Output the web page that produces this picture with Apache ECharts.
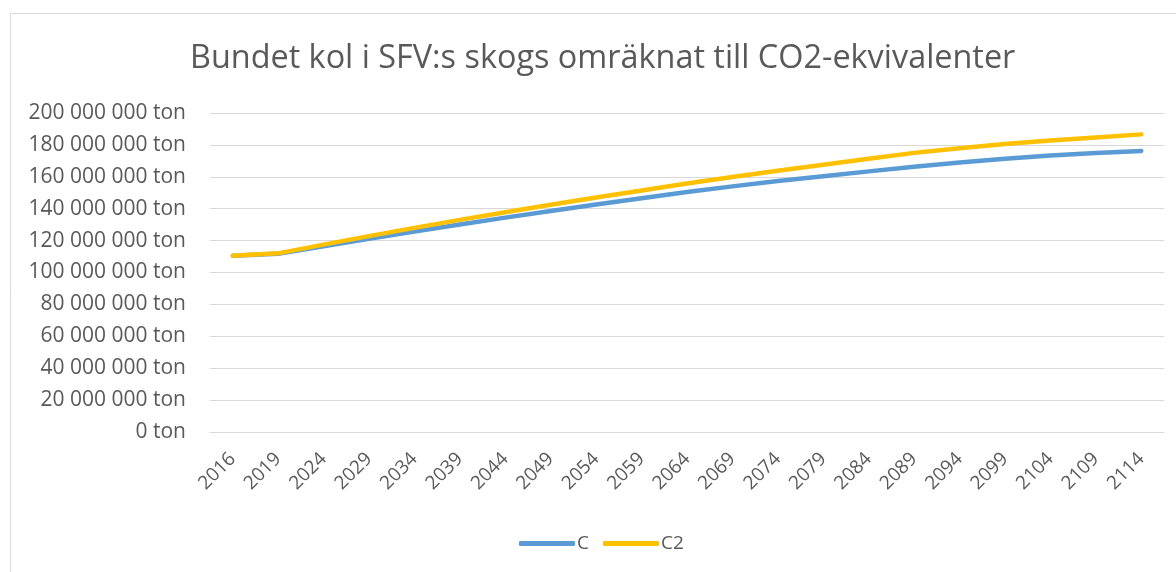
<!DOCTYPE html>
<html>
<head>
<meta charset="utf-8">
<script src="https://cdn.jsdelivr.net/npm/echarts@6/dist/echarts.min.js"></script>
<style>
html,body{margin:0;padding:0;background:#fff;}
#chart{width:1176px;height:572px;}
</style>
</head>
<body>
<div id="chart"></div>
<script>
const categories = ["2016","2019","2024","2029","2034","2039","2044","2049","2054","2059","2064","2069","2074","2079","2084","2089","2094","2099","2104","2109","2114"];
const seriesC = [110.5e6,111.8e6,116.5e6,121.2e6,125.7e6,130.1e6,134.4e6,138.6e6,142.6e6,146.6e6,150.5e6,154.0e6,157.3e6,160.4e6,163.4e6,166.3e6,168.9e6,171.3e6,173.3e6,174.9e6,176.2e6];
const seriesC2 = [110.5e6,112.0e6,117.5e6,122.8e6,128.0e6,133.0e6,137.8e6,142.5e6,147.0e6,151.4e6,155.8e6,159.9e6,163.8e6,167.6e6,171.3e6,175.0e6,177.9e6,180.5e6,182.7e6,184.7e6,186.6e6];
const seriesNames = ["C","C2"];
const titleText = "Bundet kol i SFV:s skogs omräknat till CO2-ekvivalenter";

const FONT = "Open Sans";
function fmt(v){
  return String(Math.round(v)).replace(/\B(?=(\d{3})+(?!\d))/g, " ") + " ton";
}
const chart = echarts.init(document.getElementById('chart'), null, {renderer:'canvas'});
chart.setOption({
  animation:false,
  backgroundColor:'#ffffff',
  graphic:[{type:'rect', shape:{x:10.5,y:13.5,width:1300,height:700}, style:{fill:'none',stroke:'#D9D9D9',lineWidth:1}, silent:true}],
  title:{text:titleText, left:185, top:38, textStyle:{fontFamily:FONT, fontSize:32.4, fontWeight:'normal', color:'#595959'}},
  legend:{top:529, left:514, itemWidth:56, itemHeight:5, itemGap:14, icon:'roundRect',
    textStyle:{fontFamily:FONT, fontSize:19, color:'#595959', padding:[0,0,0,-3]}, data:seriesNames},
  grid:{left:210, right:12, top:113, bottom:140, containLabel:false},
  xAxis:{type:'category', data:categories, boundaryGap:true,
    axisLine:{lineStyle:{color:'#D9D9D9', width:1}}, axisTick:{show:false},
    axisLabel:{rotate:45, fontFamily:FONT, fontSize:19, color:'#595959', margin:24, interval:0}},
  yAxis:{type:'value', min:0, max:200000000, interval:20000000,
    axisLine:{show:false}, axisTick:{show:false},
    splitLine:{lineStyle:{color:'#D9D9D9', width:1}},
    axisLabel:{formatter:fmt, fontFamily:FONT, fontSize:21, color:'#595959', margin:24}},
  series:[
    {name:seriesNames[0], type:'line', data:seriesC, showSymbol:false, symbol:'none', lineStyle:{color:'#5B9BD5', width:4.5, cap:'round', join:'round'}, itemStyle:{color:'#5B9BD5'}},
    {name:seriesNames[1], type:'line', data:seriesC2, showSymbol:false, symbol:'none', lineStyle:{color:'#FFC000', width:4.5, cap:'round', join:'round'}, itemStyle:{color:'#FFC000'}}
  ]
});
</script>
</body>
</html>
